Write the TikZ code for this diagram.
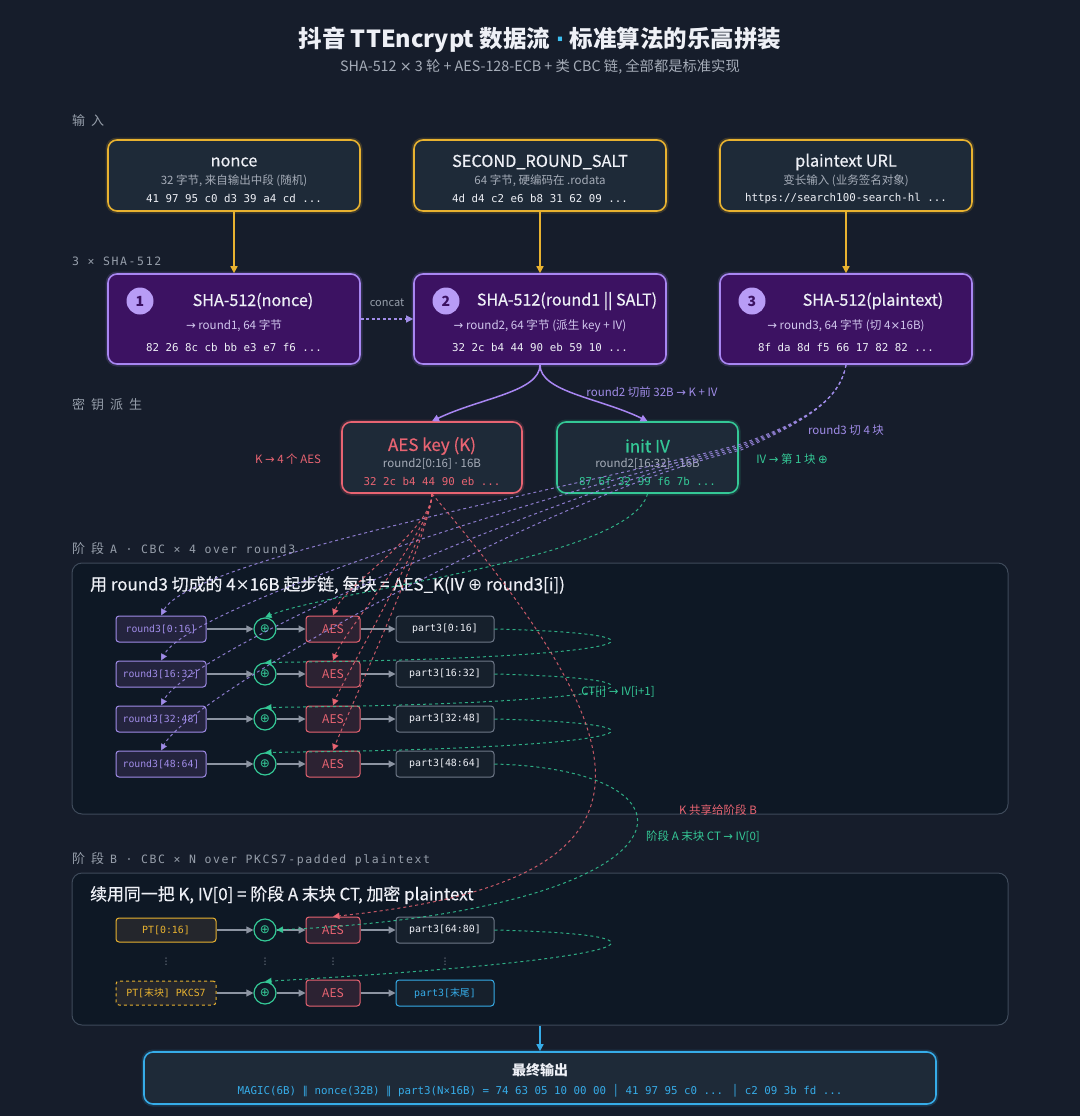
\documentclass[tikz,border=0pt]{standalone}
\usepackage{fontspec}
\setmainfont{Noto Sans CJK SC}
\newfontfamily\medf{Noto Sans CJK SC}[FakeBold=0.5]
\newfontfamily\mono{DejaVu Sans Mono}
\newfontfamily\secmono{DejaVu Sans Mono}[LetterSpace=14]
\newfontfamily\dvs{DejaVu Sans}
\usetikzlibrary{arrows.meta}
\newcommand\fsz[1]{\fontsize{#1}{#1}\selectfont}
\newcommand\rar{{\dvs →}}
\newcommand\tms{{\dvs ×}}
\newcommand\xo{{\dvs ⊕}}
\newcommand\mdot{{\dvs ·}}
\newcommand\pll{{\dvs ∥}}
\newcommand\gp{\hspace{6pt}}
\definecolor{bgc}{RGB}{22,29,43}
\definecolor{panelc}{RGB}{14,24,37}
\definecolor{panelb}{RGB}{62,74,90}
\definecolor{whitec}{RGB}{238,240,246}
\definecolor{grayc}{RGB}{165,172,184}
\definecolor{secc}{RGB}{150,158,170}
\definecolor{ylw}{RGB}{232,178,48}
\definecolor{infill}{RGB}{30,42,56}
\definecolor{purf}{RGB}{60,18,98}
\definecolor{purb}{RGB}{168,134,242}
\definecolor{purc}{RGB}{184,156,246}
\definecolor{purt}{RGB}{210,200,238}
\definecolor{purl}{RGB}{160,140,232}
\definecolor{redc}{RGB}{232,100,114}
\definecolor{grnc}{RGB}{52,200,150}
\definecolor{bluc}{RGB}{54,172,232}
\definecolor{cyanA}{RGB}{60,190,240}
\definecolor{r3f}{RGB}{36,36,62}
\definecolor{aesf}{RGB}{44,34,50}
\definecolor{ptf}{RGB}{22,32,44}
\definecolor{ptb}{RGB}{110,120,136}
\definecolor{arrc}{RGB}{140,148,162}
\definecolor{pytf}{RGB}{36,38,44}
\begin{document}
\begin{tikzpicture}[x=1pt,y=-1pt,
  tip/.style={-{Triangle[length=7pt,width=7pt]}},
  txt/.style={inner sep=0pt},
  glow/.style={preaction={draw=#1,draw opacity=0.18,line width=5pt,fill=none}},
  inbox/.style={draw=ylw,fill=infill,rounded corners=9pt,line width=1.6pt,minimum width=252pt,minimum height=71pt,inner sep=0pt,glow=ylw},
  shabox/.style={draw=purb,fill=purf,rounded corners=9pt,line width=1.6pt,minimum width=252pt,minimum height=90pt,inner sep=0pt,glow=purb},
  numc/.style={circle,fill=purc,minimum size=27pt,inner sep=0pt,text=purf,font=\fsz{14}\bfseries},
  kbox/.style={draw=#1,fill=infill,rounded corners=9pt,line width=1.6pt,minimum height=71pt,inner sep=0pt,glow=#1},
  panel/.style={draw=panelb,fill=panelc,rounded corners=10pt,line width=1pt,minimum width=936pt,inner sep=0pt},
  r3box/.style={draw=purl,fill=r3f,rounded corners=3pt,line width=1pt,minimum width=90pt,minimum height=26pt,inner sep=0pt,text=purl,font=\mono\fsz{9.8}},
  xorc/.style={circle,draw=grnc,line width=1.2pt,fill=panelc,minimum size=22pt,inner sep=0pt,text=grnc,font=\fsz{12}},
  aesbox/.style={draw=redc,fill=aesf,rounded corners=3pt,line width=1pt,minimum width=54pt,minimum height=26pt,inner sep=0pt,text=redc,font=\fsz{12}},
  pbox/.style={draw=ptb,fill=ptf,rounded corners=3pt,line width=1pt,minimum width=98pt,minimum height=26pt,inner sep=0pt,text=whitec,font=\mono\fsz{9.9}},
  ptbox/.style={draw=ylw,fill=pytf,rounded corners=3pt,line width=1pt,minimum width=100pt,minimum height=24pt,inner sep=0pt,text=ylw,font=\mono\fsz{9.9}},
  garr/.style={draw=arrc,line width=1.2pt,-{Triangle[length=7pt,width=7pt]}},
  dsh/.style={draw=#1,line width=1pt,dash pattern=on 3pt off 3pt,-{Triangle[length=6.5pt,width=6.5pt]},draw opacity=0.85},
  sec/.style={txt,anchor=west,text=secc,font=\fsz{13}},
  lab/.style={txt,font=\fsz{11.5}}
]
\useasboundingbox (0,0) rectangle (1080,1116);
\fill[bgc] (0,0) rectangle (1080,1116);

% title
\node[txt,text=whitec,font=\fsz{23.5}\bfseries] (title) at (540,40) {抖音 TTEncrypt 数据流 \textcolor{cyanA}{\mdot} 标准算法的乐高拼装};
\node[txt,text=grayc,font=\fsz{14.3}] (subt) at (540,67) {SHA-512 \tms{} 3 轮 + AES-128-ECB + 类 CBC 链, 全部都是标准实现};

% section labels
\node[sec] (s1) at (72,121) {输\gp 入};
\node[sec] (s2) at (72,261) {\secmono\fsz{11.5}3 × SHA-512};
\node[sec] (s3) at (72,405) {密\gp 钥\gp 派\gp 生};
\node[sec] (s4) at (72,549) {阶\gp 段\gp{\secmono\fsz{11.5}A · CBC × 4 over round3}};
\node[sec] (s5) at (72,859) {阶\gp 段\gp{\secmono\fsz{11.5}B · CBC × N over PKCS7-padded plaintext}};

% input boxes
\node[inbox] (in1) at (234,175.5) {};
\node[inbox] (in2) at (540,175.5) {};
\node[inbox] (in3) at (846,175.5) {};
\node[txt,text=whitec,font=\medf\fsz{16.3}] (in1t) at (234,162) {nonce};
\node[txt,text=grayc,font=\fsz{11.5}] (in1s) at (234,181) {32 字节, 来自输出中段 (随机)};
\node[txt,text=whitec,font=\mono\fsz{10.8}] (in1h) at (234,198) {41 97 95 c0 d3 39 a4 cd ...};
\node[txt,text=whitec,font=\medf\fsz{16.3}] (in2t) at (540,162) {SECOND\_ROUND\_SALT};
\node[txt,text=grayc,font=\fsz{11.5}] (in2s) at (540,181) {64 字节, 硬编码在 .rodata};
\node[txt,text=whitec,font=\mono\fsz{10.8}] (in2h) at (540,198) {4d d4 c2 e6 b8 31 62 09 ...};
\node[txt,text=whitec,font=\medf\fsz{16.3}] (in3t) at (846,162) {plaintext URL};
\node[txt,text=grayc,font=\fsz{11.5}] (in3s) at (846,181) {变长输入 (业务签名对象)};
\node[txt,text=whitec,font=\mono\fsz{10.8}] (in3h) at (846,198) {https://search100-search-hl ...};

% sha boxes
\node[shabox] (sha1) at (234,319) {};
\node[shabox] (sha2) at (540,319) {};
\node[shabox] (sha3) at (846,319) {};
\node[numc] (n1) at (140,301) {1};
\node[numc] (n2) at (446,301) {2};
\node[numc] (n3) at (752,301) {3};
\node[txt,text=whitec,font=\medf\fsz{16.1}] (sha1t) at (253,301) {SHA-512(nonce)};
\node[txt,text=whitec,font=\medf\fsz{16.1}] (sha2t) at (567,301) {SHA-512(round1 || SALT)};
\node[txt,text=whitec,font=\medf\fsz{16.1}] (sha3t) at (873,301) {SHA-512(plaintext)};
\node[txt,text=purt,font=\fsz{11.6}] (sha1s) at (234,326) {\rar{} round1, 64 字节};
\node[txt,text=purt,font=\fsz{11.6}] (sha2s) at (540,326) {\rar{} round2, 64 字节 (派生 key + IV)};
\node[txt,text=purt,font=\fsz{11.6}] (sha3s) at (846,326) {\rar{} round3, 64 字节 (切 4\tms16B)};
\node[txt,text=whitec,font=\mono\fsz{10.8}] (sha1h) at (234,347) {82 26 8c cb bb e3 e7 f6 ...};
\node[txt,text=whitec,font=\mono\fsz{10.8}] (sha2h) at (540,347) {32 2c b4 44 90 eb 59 10 ...};
\node[txt,text=whitec,font=\mono\fsz{10.8}] (sha3h) at (846,347) {8f da 8d f5 66 17 82 82 ...};

\foreach \i in {1,2,3} \draw[draw=ylw,line width=1.5pt,tip] (in\i.south) -- (sha\i.north);
\draw[draw=purl,line width=1.2pt,dash pattern=on 3pt off 2.5pt,tip] (sha1.east) -- (sha2.west);
\node[lab,text=secc,font=\fsz{11}] (concat) at (387,303) {concat};

% key derivation
\node[kbox=redc,minimum width=180pt] (key) at (432,457.5) {};
\node[kbox=grnc,minimum width=181pt] (iv) at (647.5,457.5) {};
\node[txt,text=redc,font=\medf\fsz{17}] (keyt) at (432,446) {AES key (K)};
\node[txt,text=grayc,font=\fsz{11.5}] (keys) at (432,464) {round2[0:16] \mdot{} 16B};
\node[txt,text=redc,font=\mono\fsz{10.8}] (keyh) at (432,481) {32 2c b4 44 90 eb ...};
\node[txt,text=grnc,font=\medf\fsz{17}] (ivt) at (647.5,446) {init IV};
\node[txt,text=grayc,font=\fsz{11.5}] (ivs) at (647.5,464) {round2[16:32] \mdot{} 16B};
\node[txt,text=grnc,font=\mono\fsz{10.8}] (ivh) at (647.5,481) {87 6f 32 99 f6 7b ...};
\draw[draw=purb,line width=1.5pt,tip] (sha2.south) .. controls (540,392) and (480,398) .. (key.north);
\draw[draw=purb,line width=1.5pt,tip] (sha2.south) .. controls (540,392) and (600,398) .. (iv.north);
\node[lab,text=purl] (l1) at (652,392) {round2 切前 32B \rar{} K + IV};
\node[lab,text=redc] (l2) at (288,459) {K \rar{} 4 个 AES};
\node[lab,text=grnc] (l3) at (792,459) {IV \rar{} 第 1 块 \xo};
\node[lab,text=purl] (l4) at (846,430) {round3 切 4 块};

% stage A
\node[panel,minimum height=251pt] (pA) at (540,688.5) {};
\node[txt,anchor=west,text=whitec,font=\medf\fsz{16.9}] (hA) at (90,585) {用 round3 切成的 4\tms16B 起步链, 每块 = AES\_K(IV \xo{} round3[i])};
\foreach \i/\y/\a/\b in {1/629/0/16,2/674/16/32,3/719/32/48,4/764/48/64}{
  \node[r3box] (r\i) at (161,\y) {round3[\a:\b]};
  \node[xorc] (x\i) at (265,\y) {\xo};
  \node[aesbox] (a\i) at (333,\y) {AES};
  \node[pbox] (p\i) at (445,\y) {part3[\a:\b]};
  \draw[garr] (r\i.east) -- (x\i.west);
  \draw[garr] (x\i.east) -- (a\i.west);
  \draw[garr] (a\i.east) -- (p\i.west);
}

% stage B
\node[panel,minimum height=152pt] (pB) at (540,949) {};
\node[txt,anchor=west,text=whitec,font=\medf\fsz{16.9}] (hB) at (90,895) {续用同一把 K, IV[0] = 阶段 A 末块 CT, 加密 plaintext};
\node[ptbox] (pt1) at (166,930) {PT[0:16]};
\node[xorc] (xb1) at (265,930) {\xo};
\node[aesbox] (ab1) at (333,930) {AES};
\node[pbox] (pb1) at (445,930) {part3[64:80]};
\node[ptbox,dashed] (pt2) at (166,993) {PT[{\rmfamily 末块}] PKCS7};
\node[xorc] (xb2) at (265,993) {\xo};
\node[aesbox] (ab2) at (333,993) {AES};
\node[pbox,draw=bluc,text=bluc] (pb2) at (445,993) {part3[{\rmfamily 末尾}]};
\foreach \s/\t in {pt1/xb1,xb1/ab1,ab1/pb1,pt2/xb2,xb2/ab2,ab2/pb2} \draw[garr] (\s.east) -- (\t.west);
\foreach \xx/\nm in {166/d1,265/d2,333/d3,445/d4} \node[txt,text=arrc,font=\dvs\fsz{9}] (\nm) at (\xx,962) {⋮};

% output
\node[kbox=bluc,minimum width=792pt,minimum height=52pt] (out) at (540,1078) {};
\node[txt,text=whitec,font=\fsz{14}\bfseries] (outt) at (540,1070) {最终输出};
\node[txt,text=bluc,font=\mono\fsz{10.8}] (outh) at (540,1091) {MAGIC(6B) \pll{} nonce(32B) \pll{} part3(N×16B) = 74 63 05 10 00 00 │ 41 97 95 c0 ... │ c2 09 3b fd ...};
\draw[draw=bluc,line width=1.5pt,tip] (pB.south) -- (out.north);

% dashed flows
\coordinate (bend) at (735,444);
\foreach \i in {1,2,3,4}
  \draw[dsh=purl] (sha3.south) .. controls (840,400) and (805,422) .. ([xshift=\i*1.5pt,yshift=-\i*1.5pt]bend) .. controls (560,490) and (190,\i*45+515) .. (r\i.north);
\draw[dsh=grnc] (iv.south) .. controls (630,560) and (330,590) .. (x1.north);
\foreach \i/\j/\y in {1/2/629,2/3/674,3/4/719}
  \draw[dsh=grnc] (p\i.east) .. controls (700,\y+5) and (640,\y+30) .. (x\j.north);
\node[lab,text=grnc] (l5) at (618,692) {CT[i] \rar{} IV[i+1]};
\foreach \i in {1,2,3,4}
  \draw[dsh=redc] (key.south) .. controls (432,530) and (345,\i*45+540) .. (a\i.north);
\draw[dsh=redc] (key.south) .. controls (640,740) and (690,880) .. (ab1.north);
\node[lab,text=redc] (l6) at (718,810) {K 共享给阶段 B};
\draw[dsh=grnc] (p4.east) .. controls (720,770) and (700,910) .. (xb1.east);
\node[lab,text=grnc] (l7) at (703,837) {阶段 A 末块 CT \rar{} IV[0]};
\draw[dsh=grnc] (pb1.east) .. controls (700,935) and (640,960) .. (xb2.north);
\end{tikzpicture}
\end{document}
